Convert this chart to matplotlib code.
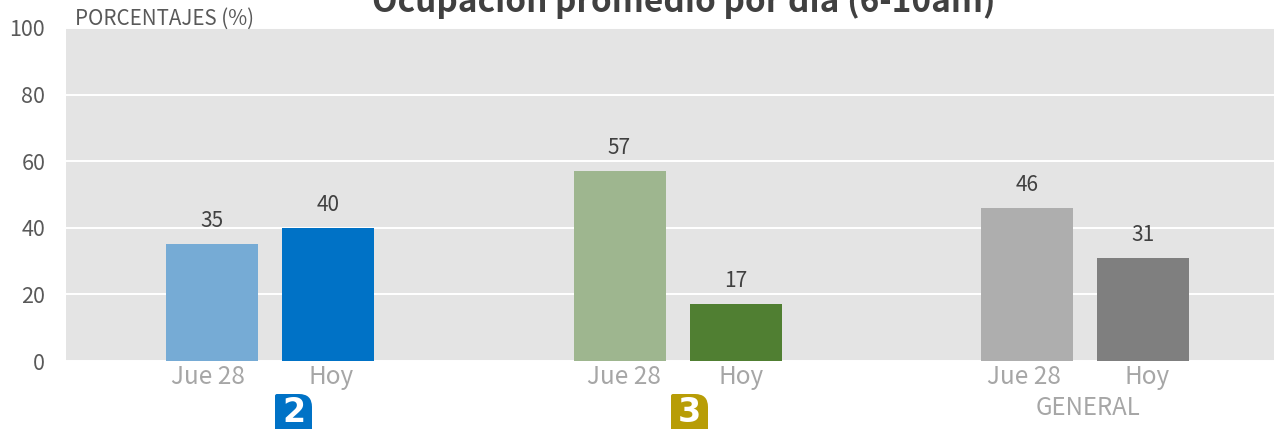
import matplotlib
matplotlib.use("Agg")
import matplotlib.pyplot as plt
from matplotlib.patches import PathPatch
from matplotlib.path import Path

plt.rcParams['font.family'] = ['Noto Sans CJK JP', 'DejaVu Sans']

# values
groups = ['2', '3', 'GENERAL']
periods = ['Jue 28', 'Hoy']
jue_values = [35, 57, 46]
hoy_values = [40, 17, 31]
y_ticks = [0, 20, 40, 60, 80, 100]

jue_colors = ['#76abd5', '#9eb68f', '#aeaeae']
hoy_colors = ['#0072c6', '#507f32', '#7f7f7f']
badge_colors = {'2': '#0072c6', '3': '#b89d06'}

W, H = 1274, 429
fig = plt.figure(figsize=(W / 100, H / 100), dpi=100)
ax = fig.add_axes([66 / W, 1 - 361 / H, (W - 66) / W, 333 / H])
ax.set_facecolor('#e4e4e4')


def px(x):
    # pixel column to data x, groups sit 407.5 px apart
    return (x - 270) / 407.5


def badge(x, y, w, h, color, digit):
    # tag shape with a big rounded top right corner, runs off the bottom edge
    r = 13
    verts = [(x + 2, y), (x + w - r, y), (x + w, y), (x + w, y + r),
             (x + w, y + h), (x, y + h), (x, y + 2), (x, y), (x + 2, y)]
    codes = [Path.MOVETO, Path.LINETO, Path.CURVE3, Path.CURVE3,
             Path.LINETO, Path.LINETO, Path.LINETO, Path.CURVE3, Path.CURVE3]
    fig_verts = [(a / W, 1 - b / H) for a, b in verts]
    fig.add_artist(PathPatch(Path(fig_verts, codes), facecolor=color, edgecolor='none',
                             transform=fig.transFigure))
    fig.text((x + w / 2) / W, 1 - (y + 18) / H, digit, color='white', fontsize=24,
             fontweight='bold', ha='center', va='center', family='DejaVu Sans')


offset = 58 / 407.5
bar_w = 92 / 407.5
for i in range(len(groups)):
    ax.bar(i - offset, jue_values[i], bar_w, color=jue_colors[i], zorder=3)
    ax.bar(i + offset, hoy_values[i], bar_w, color=hoy_colors[i], zorder=3)
    ax.text(i - offset, jue_values[i] + 3.6, str(jue_values[i]), ha='center', va='bottom',
            fontsize=15, color='#404040', linespacing=1)
    ax.text(i + offset, hoy_values[i] + 3.6, str(hoy_values[i]), ha='center', va='bottom',
            fontsize=15, color='#404040', linespacing=1)

ax.set_xlim(px(66), px(1274))
ax.set_ylim(0, 100)
ax.set_yticks(y_ticks)
ax.tick_params(axis='y', length=0, labelsize=15.5, labelcolor='#595959', pad=15)
ax.grid(axis='y', color='white', linewidth=1.4, zorder=1)
for side in ax.spines.values():
    side.set_visible(False)

# the period labels do not sit exactly under their bars in the reference
label_px = [208, 331, 624, 741, 1024, 1147]
ax.set_xticks([px(v) for v in label_px])
ax.set_xticklabels(periods * len(groups))
ax.tick_params(axis='x', length=0, labelsize=17.5, labelcolor='#a6a6a6', pad=2)

fig.text(684 / W, 1 - 0 / H, 'Ocupación promedio por día (6-10am)', fontsize=24,
         fontweight='bold', color='#404040', ha='center', va='center')
fig.text(75 / W, 1 - 19 / H, 'PORCENTAJES (%)', fontsize=14.8, color='#595959',
         ha='left', va='center')
fig.text(1088 / W, 1 - 408 / H, groups[2], fontsize=17.3, color='#a6a6a6',
         ha='center', va='center')

badge(275, 394, 37, 40, badge_colors['2'], groups[0])
badge(671, 394, 37, 40, badge_colors['3'], groups[1])

fig.savefig('out.png', dpi=100)
